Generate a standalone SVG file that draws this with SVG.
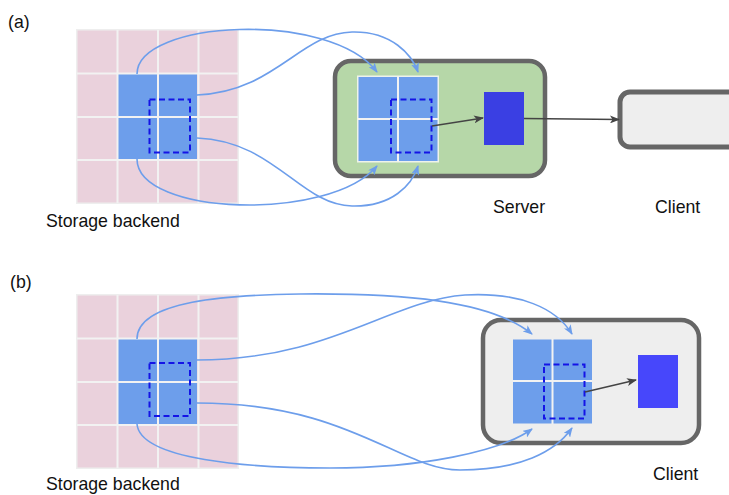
<svg xmlns="http://www.w3.org/2000/svg" width="729" height="495" viewBox="0 0 729 495">
  <defs>
    <style>
      .label { font-family: "Liberation Sans", Arial, sans-serif; font-size: 17.7px; fill: #111; }
      .grid-bg { fill: #eeeeee; }
      .cell { fill: #ead1dc; }
      .chunk { fill: #6d9eeb; }
      .gap { stroke: #f2f2f2; stroke-width: 2; }
      .sel { fill: none; stroke: #1414e6; stroke-width: 2; stroke-dasharray: 6 3.5; }
      .flow { fill: none; stroke: #6d9eeb; stroke-width: 1.6; }
      .link { fill: none; stroke: #444444; stroke-width: 1.6; }
      .box { stroke: #666666; stroke-width: 4.5; }
    </style>
    <marker id="arrBlue" viewBox="0 0 10 8" refX="9" refY="4" markerWidth="10" markerHeight="8" markerUnits="userSpaceOnUse" orient="auto">
      <path d="M0,0 L10,4 L0,8 L2.5,4 z" fill="#6d9eeb"/>
    </marker>
    <marker id="arrDark" viewBox="0 0 10 8" refX="9" refY="4" markerWidth="10" markerHeight="8" markerUnits="userSpaceOnUse" orient="auto">
      <path d="M0,0 L10,4 L0,8 L2.5,4 z" fill="#444444"/>
    </marker>
  </defs>

  <rect width="729" height="495" fill="#ffffff"/>

  <!-- ===== (a) ===== -->
  <text class="label" x="8" y="28">(a)</text>

  <g id="storage-a">
    <rect class="grid-bg" x="76" y="29" width="163" height="175"/>
    <rect class="cell" x="77.5" y="30.5" width="160" height="172"/>
    <rect class="chunk" x="118" y="74" width="79" height="85"/>
    <g class="gap">
      <line x1="117.5" y1="30" x2="117.5" y2="203"/>
      <line x1="158" y1="30" x2="158" y2="203"/>
      <line x1="198.5" y1="30" x2="198.5" y2="203"/>
      <line x1="77" y1="73.5" x2="238" y2="73.5"/>
      <line x1="77" y1="117" x2="238" y2="117"/>
      <line x1="77" y1="160" x2="238" y2="160"/>
    </g>
    <rect class="sel" x="149.5" y="99.5" width="40.5" height="53"/>
    <text class="label" x="46" y="227">Storage backend</text>
  </g>

  <g id="server">
    <rect class="box" x="335" y="61" width="210" height="115" rx="16" fill="#b6d7a8"/>
    <rect x="357" y="75.5" width="82" height="87" fill="#eef3ea"/>
    <rect class="chunk" x="358.5" y="77" width="79" height="84"/>
    <g class="gap">
      <line x1="398" y1="76" x2="398" y2="162"/>
      <line x1="358" y1="119" x2="438" y2="119"/>
    </g>
    <rect class="sel" x="391" y="99.5" width="40.5" height="53"/>
    <rect x="484" y="92" width="40" height="53" fill="#3a3fe3"/>
    <text class="label" x="493" y="213">Server</text>
  </g>

  <g id="client-a">
    <rect x="620" y="92" width="120" height="55" rx="10" fill="#eeeeee" stroke="#666666" stroke-width="5"/>
    <text class="label" x="655" y="213">Client</text>
  </g>

  <g id="connectors-a">
    <path class="flow" d="M137,74 C137,20 330,10 377,72" marker-end="url(#arrBlue)"/>
    <path class="flow" d="M197,95 C275,92 300,33 352,32 C392,31 412,55 418,72" marker-end="url(#arrBlue)"/>
    <path class="flow" d="M137,159 C137,216 330,222 377,166" marker-end="url(#arrBlue)"/>
    <path class="flow" d="M197,138 C275,141 300,205 352,206 C392,207 412,185 418,166" marker-end="url(#arrBlue)"/>
    <path class="link" d="M432,126 L483,118" marker-end="url(#arrDark)"/>
    <path class="link" d="M524,118.5 L619,119.5" marker-end="url(#arrDark)"/>
  </g>

  <!-- ===== (b) ===== -->
  <text class="label" x="10" y="288">(b)</text>

  <g id="storage-b">
    <rect class="grid-bg" x="76" y="294" width="163" height="175"/>
    <rect class="cell" x="77.5" y="295.5" width="160" height="172"/>
    <rect class="chunk" x="118" y="339" width="79" height="85"/>
    <g class="gap">
      <line x1="117.5" y1="295" x2="117.5" y2="468"/>
      <line x1="158" y1="295" x2="158" y2="468"/>
      <line x1="198.5" y1="295" x2="198.5" y2="468"/>
      <line x1="77" y1="338.5" x2="238" y2="338.5"/>
      <line x1="77" y1="382" x2="238" y2="382"/>
      <line x1="77" y1="425" x2="238" y2="425"/>
    </g>
    <rect class="sel" x="149.5" y="363" width="40.5" height="53"/>
    <text class="label" x="46" y="490">Storage backend</text>
  </g>

  <g id="client-b">
    <rect class="box" x="483" y="320" width="216" height="123" rx="18" fill="#eeeeee" stroke-width="5"/>
    <rect class="chunk" x="513" y="339.5" width="79" height="84"/>
    <g class="gap">
      <line x1="552.5" y1="339" x2="552.5" y2="424"/>
      <line x1="513" y1="381" x2="592" y2="381"/>
    </g>
    <rect class="sel" x="544" y="364.5" width="40.5" height="54"/>
    <rect x="638" y="355" width="40" height="53" fill="#4747fb"/>
    <text class="label" x="653" y="480">Client</text>
  </g>

  <g id="connectors-b">
    <path class="flow" d="M137,339 C137,300 230,295 300,294 C400,293 490,300 532,334" marker-end="url(#arrBlue)"/>
    <path class="flow" d="M197,360 C330,360 390,300 465,295 C520,292 556,308 572,334" marker-end="url(#arrBlue)"/>
    <path class="flow" d="M137,424 C140,460 250,468 330,468 C420,468 500,452 532,429" marker-end="url(#arrBlue)"/>
    <path class="flow" d="M197,403 C350,403 400,470 460,470 C520,470 555,452 572,428" marker-end="url(#arrBlue)"/>
    <path class="link" d="M585,392 L636,380" marker-end="url(#arrDark)"/>
  </g>
</svg>
